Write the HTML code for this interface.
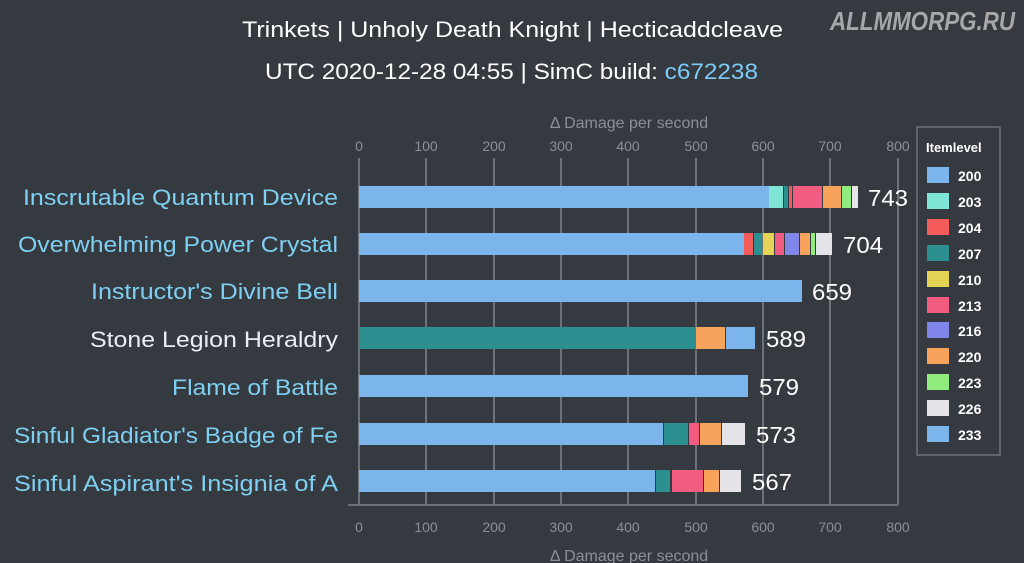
<!DOCTYPE html><html><head><style>body{margin:0;background:#343a40;}svg{display:block}</style></head><body>
<svg width="1024" height="563" xmlns="http://www.w3.org/2000/svg" font-family="'Liberation Sans','DejaVu Sans',sans-serif">
<rect width="1024" height="563" fill="#343a40"/>
<text x="242" y="37" fill="#fff" font-size="22" textLength="541" lengthAdjust="spacingAndGlyphs">Trinkets | Unholy Death Knight | Hecticaddcleave</text>
<text x="265" y="79" fill="#fff" font-size="22" textLength="493" lengthAdjust="spacingAndGlyphs">UTC 2020-12-28 04:55 | SimC build: <tspan fill="#7ecbf5">c672238</tspan></text>
<text x="830" y="30" fill="#bbb" font-size="26" font-style="italic" font-weight="bold" textLength="185" lengthAdjust="spacingAndGlyphs" opacity="0.85">ALLMMORPG.RU</text>
<text x="629" y="128" fill="#8a9096" font-size="16" text-anchor="middle">Δ Damage per second</text>
<text x="629" y="561" fill="#8a9096" font-size="16" text-anchor="middle">Δ Damage per second</text>
<g stroke="#6c7278" stroke-width="2">
<line x1="359" y1="158" x2="359" y2="505"/><line x1="426" y1="158" x2="426" y2="505"/><line x1="494" y1="158" x2="494" y2="505"/><line x1="561" y1="158" x2="561" y2="505"/><line x1="628" y1="158" x2="628" y2="505"/><line x1="696" y1="158" x2="696" y2="505"/><line x1="763" y1="158" x2="763" y2="505"/><line x1="830" y1="158" x2="830" y2="505"/><line x1="898" y1="158" x2="898" y2="505"/>
<line x1="348" y1="505" x2="898" y2="505"/>
</g>
<g fill="#8a9096" font-size="14" text-anchor="middle">
<text x="359" y="151">0</text><text x="426" y="151">100</text><text x="494" y="151">200</text><text x="561" y="151">300</text><text x="628" y="151">400</text><text x="696" y="151">500</text><text x="763" y="151">600</text><text x="830" y="151">700</text><text x="898" y="151">800</text>
<text x="359" y="532">0</text><text x="426" y="532">100</text><text x="494" y="532">200</text><text x="561" y="532">300</text><text x="628" y="532">400</text><text x="696" y="532">500</text><text x="763" y="532">600</text><text x="830" y="532">700</text><text x="898" y="532">800</text>
</g>
<g font-size="22" fill="#7fd0f0">
<text x="23" y="205" textLength="315" lengthAdjust="spacingAndGlyphs">Inscrutable Quantum Device</text>
<text x="18" y="252" textLength="320" lengthAdjust="spacingAndGlyphs">Overwhelming Power Crystal</text>
<text x="91" y="299" textLength="247" lengthAdjust="spacingAndGlyphs">Instructor's Divine Bell</text>
<text x="90" y="347" fill="#e8eef2" textLength="248" lengthAdjust="spacingAndGlyphs">Stone Legion Heraldry</text>
<text x="172" y="395" textLength="166" lengthAdjust="spacingAndGlyphs">Flame of Battle</text>
<text x="14" y="443" textLength="324" lengthAdjust="spacingAndGlyphs">Sinful Gladiator's Badge of Fe</text>
<text x="14" y="491" textLength="324" lengthAdjust="spacingAndGlyphs">Sinful Aspirant's Insignia of A</text>
</g>
<g>
<rect x="359" y="186" width="410" height="22" fill="#7cb5ec"/><rect x="769" y="186" width="14" height="22" fill="#7fe5d6"/><rect x="784" y="186" width="4" height="22" fill="#2b908f"/><rect x="789" y="186" width="3" height="22" fill="#f45b5b"/><rect x="793" y="186" width="29" height="22" fill="#f15c80"/><rect x="823" y="186" width="18" height="22" fill="#f7a35c"/><rect x="842" y="186" width="9" height="22" fill="#90ed7d"/><rect x="852" y="186" width="6" height="22" fill="#e4e4e8"/>
<rect x="359" y="233" width="385" height="22" fill="#7cb5ec"/><rect x="744" y="233" width="9" height="22" fill="#f45b5b"/><rect x="754" y="233" width="8" height="22" fill="#2b908f"/><rect x="763" y="233" width="11" height="22" fill="#e4d354"/><rect x="775" y="233" width="9" height="22" fill="#f15c80"/><rect x="785" y="233" width="14" height="22" fill="#8085e9"/><rect x="800" y="233" width="10" height="22" fill="#f7a35c"/><rect x="811" y="233" width="4" height="22" fill="#90ed7d"/><rect x="816" y="233" width="16" height="22" fill="#e4e4e8"/>
<rect x="359" y="280" width="443" height="22" fill="#7cb5ec"/>
<rect x="359" y="327" width="336" height="22" fill="#2b908f"/><rect x="696" y="327" width="29" height="22" fill="#f7a35c"/><rect x="726" y="327" width="29" height="22" fill="#7cb5ec"/>
<rect x="359" y="375" width="389" height="22" fill="#7cb5ec"/>
<rect x="359" y="423" width="304" height="22" fill="#7cb5ec"/><rect x="664" y="423" width="24" height="22" fill="#2b908f"/><rect x="689" y="423" width="10" height="22" fill="#f15c80"/><rect x="700" y="423" width="21" height="22" fill="#f7a35c"/><rect x="722" y="423" width="23" height="22" fill="#e4e4e8"/>
<rect x="359" y="470" width="296" height="22" fill="#7cb5ec"/><rect x="656" y="470" width="14" height="22" fill="#2b908f"/><rect x="672" y="470" width="31" height="22" fill="#f15c80"/><rect x="704" y="470" width="15" height="22" fill="#f7a35c"/><rect x="720" y="470" width="21" height="22" fill="#e4e4e8"/>
</g>
<g fill="#fff" font-size="23">
<text x="868" y="206" textLength="40" lengthAdjust="spacingAndGlyphs">743</text><text x="843" y="253" textLength="40" lengthAdjust="spacingAndGlyphs">704</text><text x="812" y="300" textLength="40" lengthAdjust="spacingAndGlyphs">659</text><text x="766" y="347" textLength="40" lengthAdjust="spacingAndGlyphs">589</text><text x="759" y="395" textLength="40" lengthAdjust="spacingAndGlyphs">579</text><text x="756" y="443" textLength="40" lengthAdjust="spacingAndGlyphs">573</text><text x="752" y="490" textLength="40" lengthAdjust="spacingAndGlyphs">567</text>
</g>
<rect x="917" y="127" width="83" height="328" fill="none" stroke="#6c7278" stroke-width="1.5"/>
<text x="926" y="152" fill="#fff" font-size="13" font-weight="bold">Itemlevel</text>
<g font-size="14" font-weight="bold" fill="#fff">
<rect x="927" y="167" width="22" height="16" fill="#7cb5ec"/><text x="958" y="181">200</text>
<rect x="927" y="193" width="22" height="16" fill="#7fe5d6"/><text x="958" y="207">203</text>
<rect x="927" y="219" width="22" height="16" fill="#f45b5b"/><text x="958" y="233">204</text>
<rect x="927" y="245" width="22" height="16" fill="#2b908f"/><text x="958" y="259">207</text>
<rect x="927" y="271" width="22" height="16" fill="#e4d354"/><text x="958" y="285">210</text>
<rect x="927" y="297" width="22" height="16" fill="#f15c80"/><text x="958" y="311">213</text>
<rect x="927" y="322" width="22" height="16" fill="#8085e9"/><text x="958" y="336">216</text>
<rect x="927" y="348" width="22" height="16" fill="#f7a35c"/><text x="958" y="362">220</text>
<rect x="927" y="374" width="22" height="16" fill="#90ed7d"/><text x="958" y="388">223</text>
<rect x="927" y="400" width="22" height="16" fill="#e4e4e8"/><text x="958" y="414">226</text>
<rect x="927" y="426" width="22" height="16" fill="#7cb5ec"/><text x="958" y="440">233</text>
</g>
</svg>
</body></html>
